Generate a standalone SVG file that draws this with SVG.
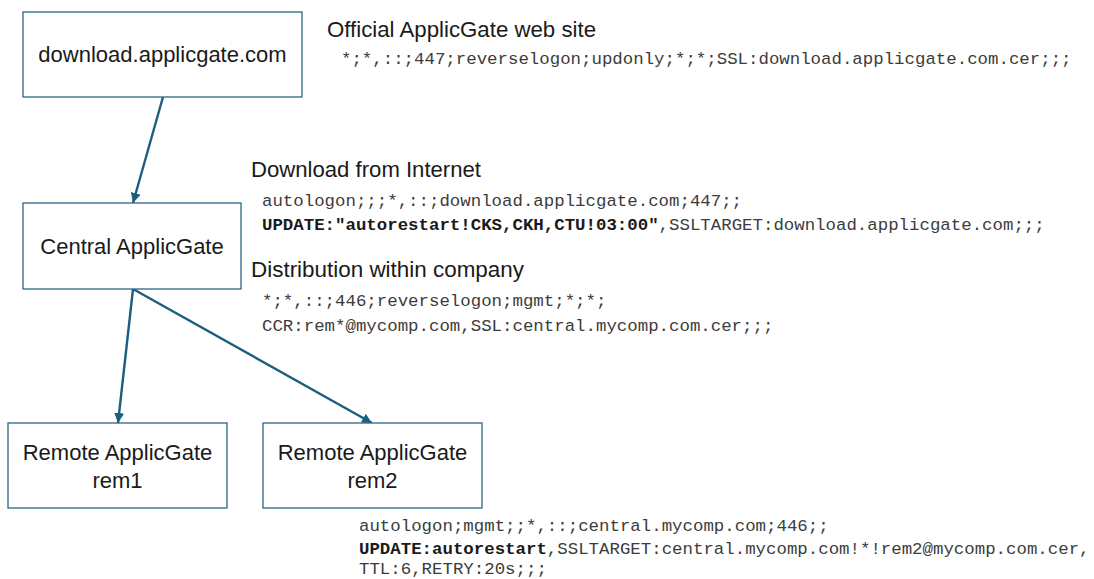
<svg xmlns="http://www.w3.org/2000/svg" width="1094" height="579" viewBox="0 0 1094 579">
<style>
.box{fill:#fff;stroke:#2a6785;stroke-width:1.3}
.lbl{font-family:"Liberation Sans",Arial,sans-serif;font-size:22px;fill:#1a1a1a;text-anchor:middle}
.hd{font-family:"Liberation Sans",Arial,sans-serif;font-size:22px;fill:#1a1a1a}
.mono{font-family:"Liberation Mono","Courier New",monospace;font-size:17.4px;fill:#3c3c3c}
.b{font-weight:bold;fill:#1a1a1a}
.conn{stroke:#1b5e80;stroke-width:2.4;fill:none}
</style>
<defs>
<marker id="arr" viewBox="0 0 10 10" refX="10" refY="5" markerWidth="10" markerHeight="10" markerUnits="userSpaceOnUse" orient="auto">
<path d="M0,0 L10,5 L0,10 z" fill="#1b5e80"/>
</marker>
</defs>
<rect width="1094" height="579" fill="#fff"/>
<g id="connectors">
<line class="conn" x1="163" y1="97" x2="133" y2="203" marker-end="url(#arr)"/>
<line class="conn" x1="133" y1="289" x2="118" y2="423" marker-end="url(#arr)"/>
<line class="conn" x1="133" y1="289" x2="372" y2="423" marker-end="url(#arr)"/>
</g>
<g id="node-download">
<rect class="box" x="23" y="12" width="279" height="85"/>
<text class="lbl" x="162.5" y="62">download.applicgate.com</text>
</g>
<g id="node-central">
<rect class="box" x="23" y="203" width="218" height="86"/>
<text class="lbl" x="132" y="254">Central ApplicGate</text>
</g>
<g id="node-rem1">
<rect class="box" x="8" y="423" width="219" height="85"/>
<text class="lbl" x="117.5" y="460">Remote ApplicGate</text>
<text class="lbl" x="117.5" y="488">rem1</text>
</g>
<g id="node-rem2">
<rect class="box" x="263" y="423" width="219" height="85"/>
<text class="lbl" x="372.5" y="460">Remote ApplicGate</text>
<text class="lbl" x="372.5" y="488">rem2</text>
</g>
<g id="notes">
<text class="hd" x="327" y="37" textLength="269" lengthAdjust="spacingAndGlyphs">Official ApplicGate web site</text>
<text class="mono" x="341" y="64">*;*,::;447;reverselogon;updonly;*;*;SSL:download.applicgate.com.cer;;;</text>
<text class="hd" x="251" y="177" textLength="230" lengthAdjust="spacingAndGlyphs">Download from Internet</text>
<text class="mono" x="262" y="206">autologon;;;*,::;download.applicgate.com;447;;</text>
<text class="mono" x="262" y="230"><tspan class="b">UPDATE:"autorestart!CKS,CKH,CTU!03:00"</tspan>,SSLTARGET:download.applicgate.com;;;</text>
<text class="hd" x="251" y="277" textLength="273" lengthAdjust="spacingAndGlyphs">Distribution within company</text>
<text class="mono" x="262" y="306">*;*,::;446;reverselogon;mgmt;*;*;</text>
<text class="mono" x="262" y="331">CCR:rem*@mycomp.com,SSL:central.mycomp.com.cer;;;</text>
<text class="mono" x="359" y="531">autologon;mgmt;;*,::;central.mycomp.com;446;;</text>
<text class="mono" x="359" y="554"><tspan class="b">UPDATE:autorestart</tspan>,SSLTARGET:central.mycomp.com!*!rem2@mycomp.com.cer,</text>
<text class="mono" x="359" y="574">TTL:6,RETRY:20s;;;</text>
</g>
</svg>
